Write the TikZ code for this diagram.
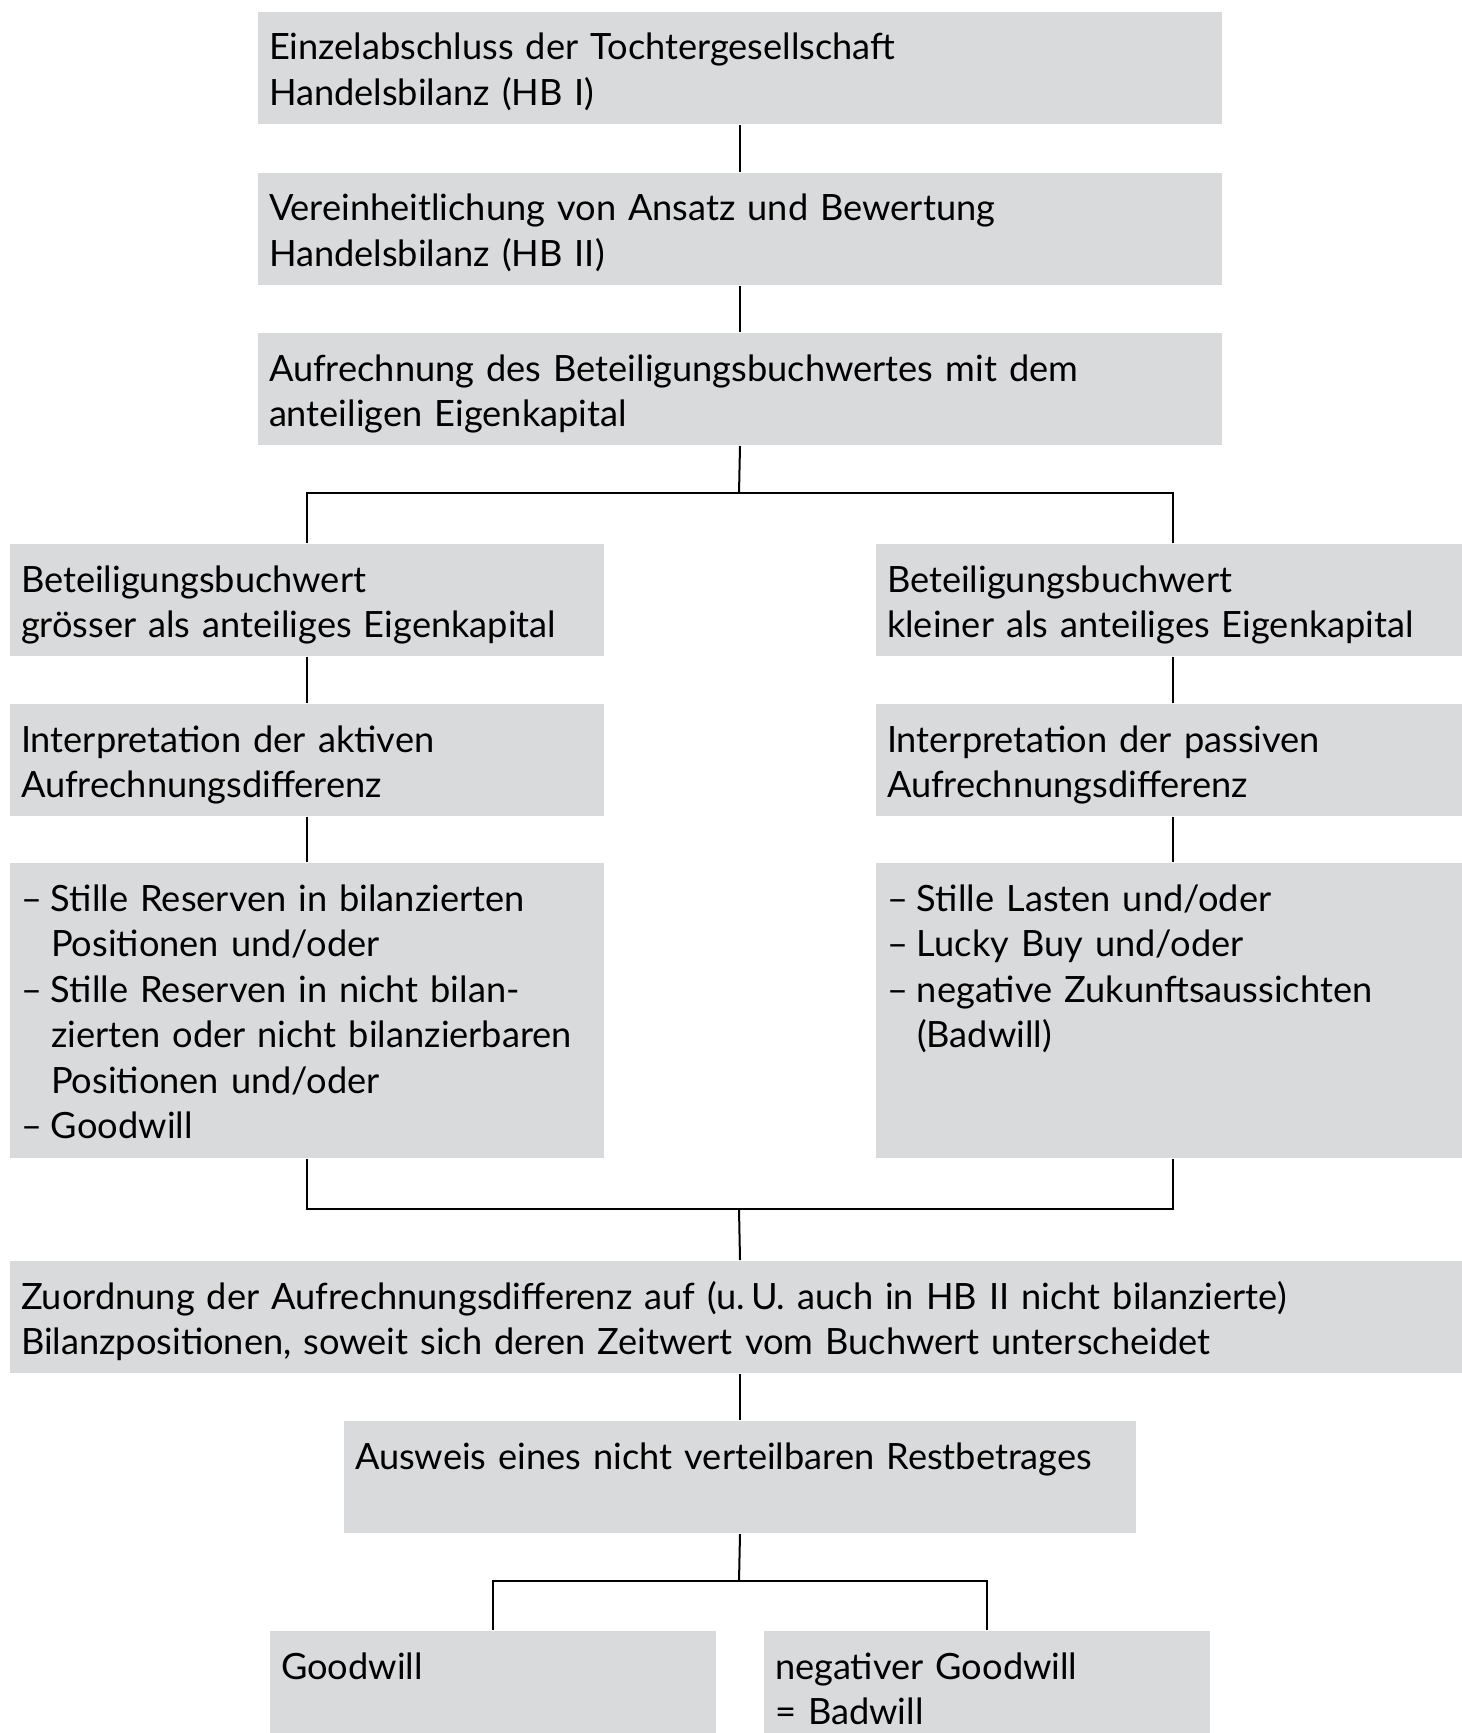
\documentclass[tikz,border=0pt]{standalone}
\usepackage{fontspec}
\setmainfont{Lato}
\usetikzlibrary{positioning,calc}
\definecolor{boxgray}{RGB}{217,218,220}

\begin{document}
\begin{tikzpicture}[x=0.5pt,y=-0.5pt,line width=1pt,
    box/.style={fill=boxgray, anchor=north west, inner xsep=5.5pt, inner ysep=0pt,
        align=left, text height=24pt, text depth=32pt,
        font=\fontsize{18.1}{22.75}\selectfont},
    wide box/.style={box, text width=471pt},
    col box/.style={box, text width=286pt},
    end box/.style={box, text width=212pt}]

    \useasboundingbox (0,0) rectangle (1461,1733);

    \node[wide box] (einzel) at (257,11) {Einzelabschluss der Tochtergesellschaft\\Handelsbilanz (HB I)};
    \node[wide box] (vereinh) at (257,172) {Vereinheitlichung von Ansatz und Bewertung\\Handelsbilanz (HB II)};
    \node[wide box] (aufr) at (257,332) {Aufrechnung des Beteiligungsbuchwertes mit dem\\anteiligen Eigenkapital};

    \node[col box] (groesser) at (9,543) {Beteiligungsbuchwert\\grösser als anteiliges Eigenkapital};
    \node[col box] (kleiner) at (875,543) {Beteiligungsbuchwert\\kleiner als anteiliges Eigenkapital};

    \node[col box] (aktiv) at (9,703) {Interpretation der aktiven\\Aufrechnungsdifferenz};
    \node[col box] (passiv) at (875,703) {Interpretation der passiven\\Aufrechnungsdifferenz};

    \node[col box, text depth=123.5pt] (reserven) at (9,862)
        {\makebox[15pt][l]{–}Stille Reserven in bilanzierten\\
         \hspace*{15pt}Positionen und/oder\\
         \makebox[15pt][l]{–}Stille Reserven in nicht bilan-\\
         \hspace*{15pt}zierten oder nicht bilanzierbaren\\
         \hspace*{15pt}Positionen und/oder\\
         \makebox[15pt][l]{–}Goodwill};
    \node[col box, text depth=123.5pt] (lasten) at (875,862)
        {\makebox[15pt][l]{–}Stille Lasten und/oder\\
         \makebox[15pt][l]{–}Lucky Buy und/oder\\
         \makebox[15pt][l]{–}negative Zukunftsaussichten\\
         \hspace*{15pt}(Badwill)};

    \node[box, text width=719pt] (zuord) at (9,1260) {Zuordnung der Aufrechnungsdifferenz auf (u.\,U. auch in HB II nicht bilanzierte)\\Bilanzpositionen, soweit sich deren Zeitwert vom Buchwert unterscheidet};

    \node[box, text width=385pt] (rest) at (343,1420) {Ausweis eines nicht verteilbaren Restbetrages};

    \node[end box] (gw) at (269,1630) {Goodwill};
    \node[end box] (bw) at (763,1630) {negativer Goodwill\\= Badwill};

    % branch points
    \coordinate (split1) at (739,493);
    \coordinate (merge1) at (739,1209);
    \coordinate (split2) at (739,1581);

    \draw (einzel) -- (vereinh);
    \draw (vereinh) -- (aufr);
    \draw (aufr.south) -- (split1);
    \draw (groesser.north) |- (split1) -| (kleiner.north);
    \draw (groesser) -- (aktiv);
    \draw (kleiner) -- (passiv);
    \draw (aktiv) -- (reserven);
    \draw (passiv) -- (lasten);
    \draw (reserven.south) |- (merge1) -| (lasten.south);
    \draw (merge1) -- (zuord.north);
    \draw (zuord) -- (rest);
    \draw (rest.south) -- (split2);
    \draw (gw.north) |- (split2) -| (bw.north);

\end{tikzpicture}
\end{document}
